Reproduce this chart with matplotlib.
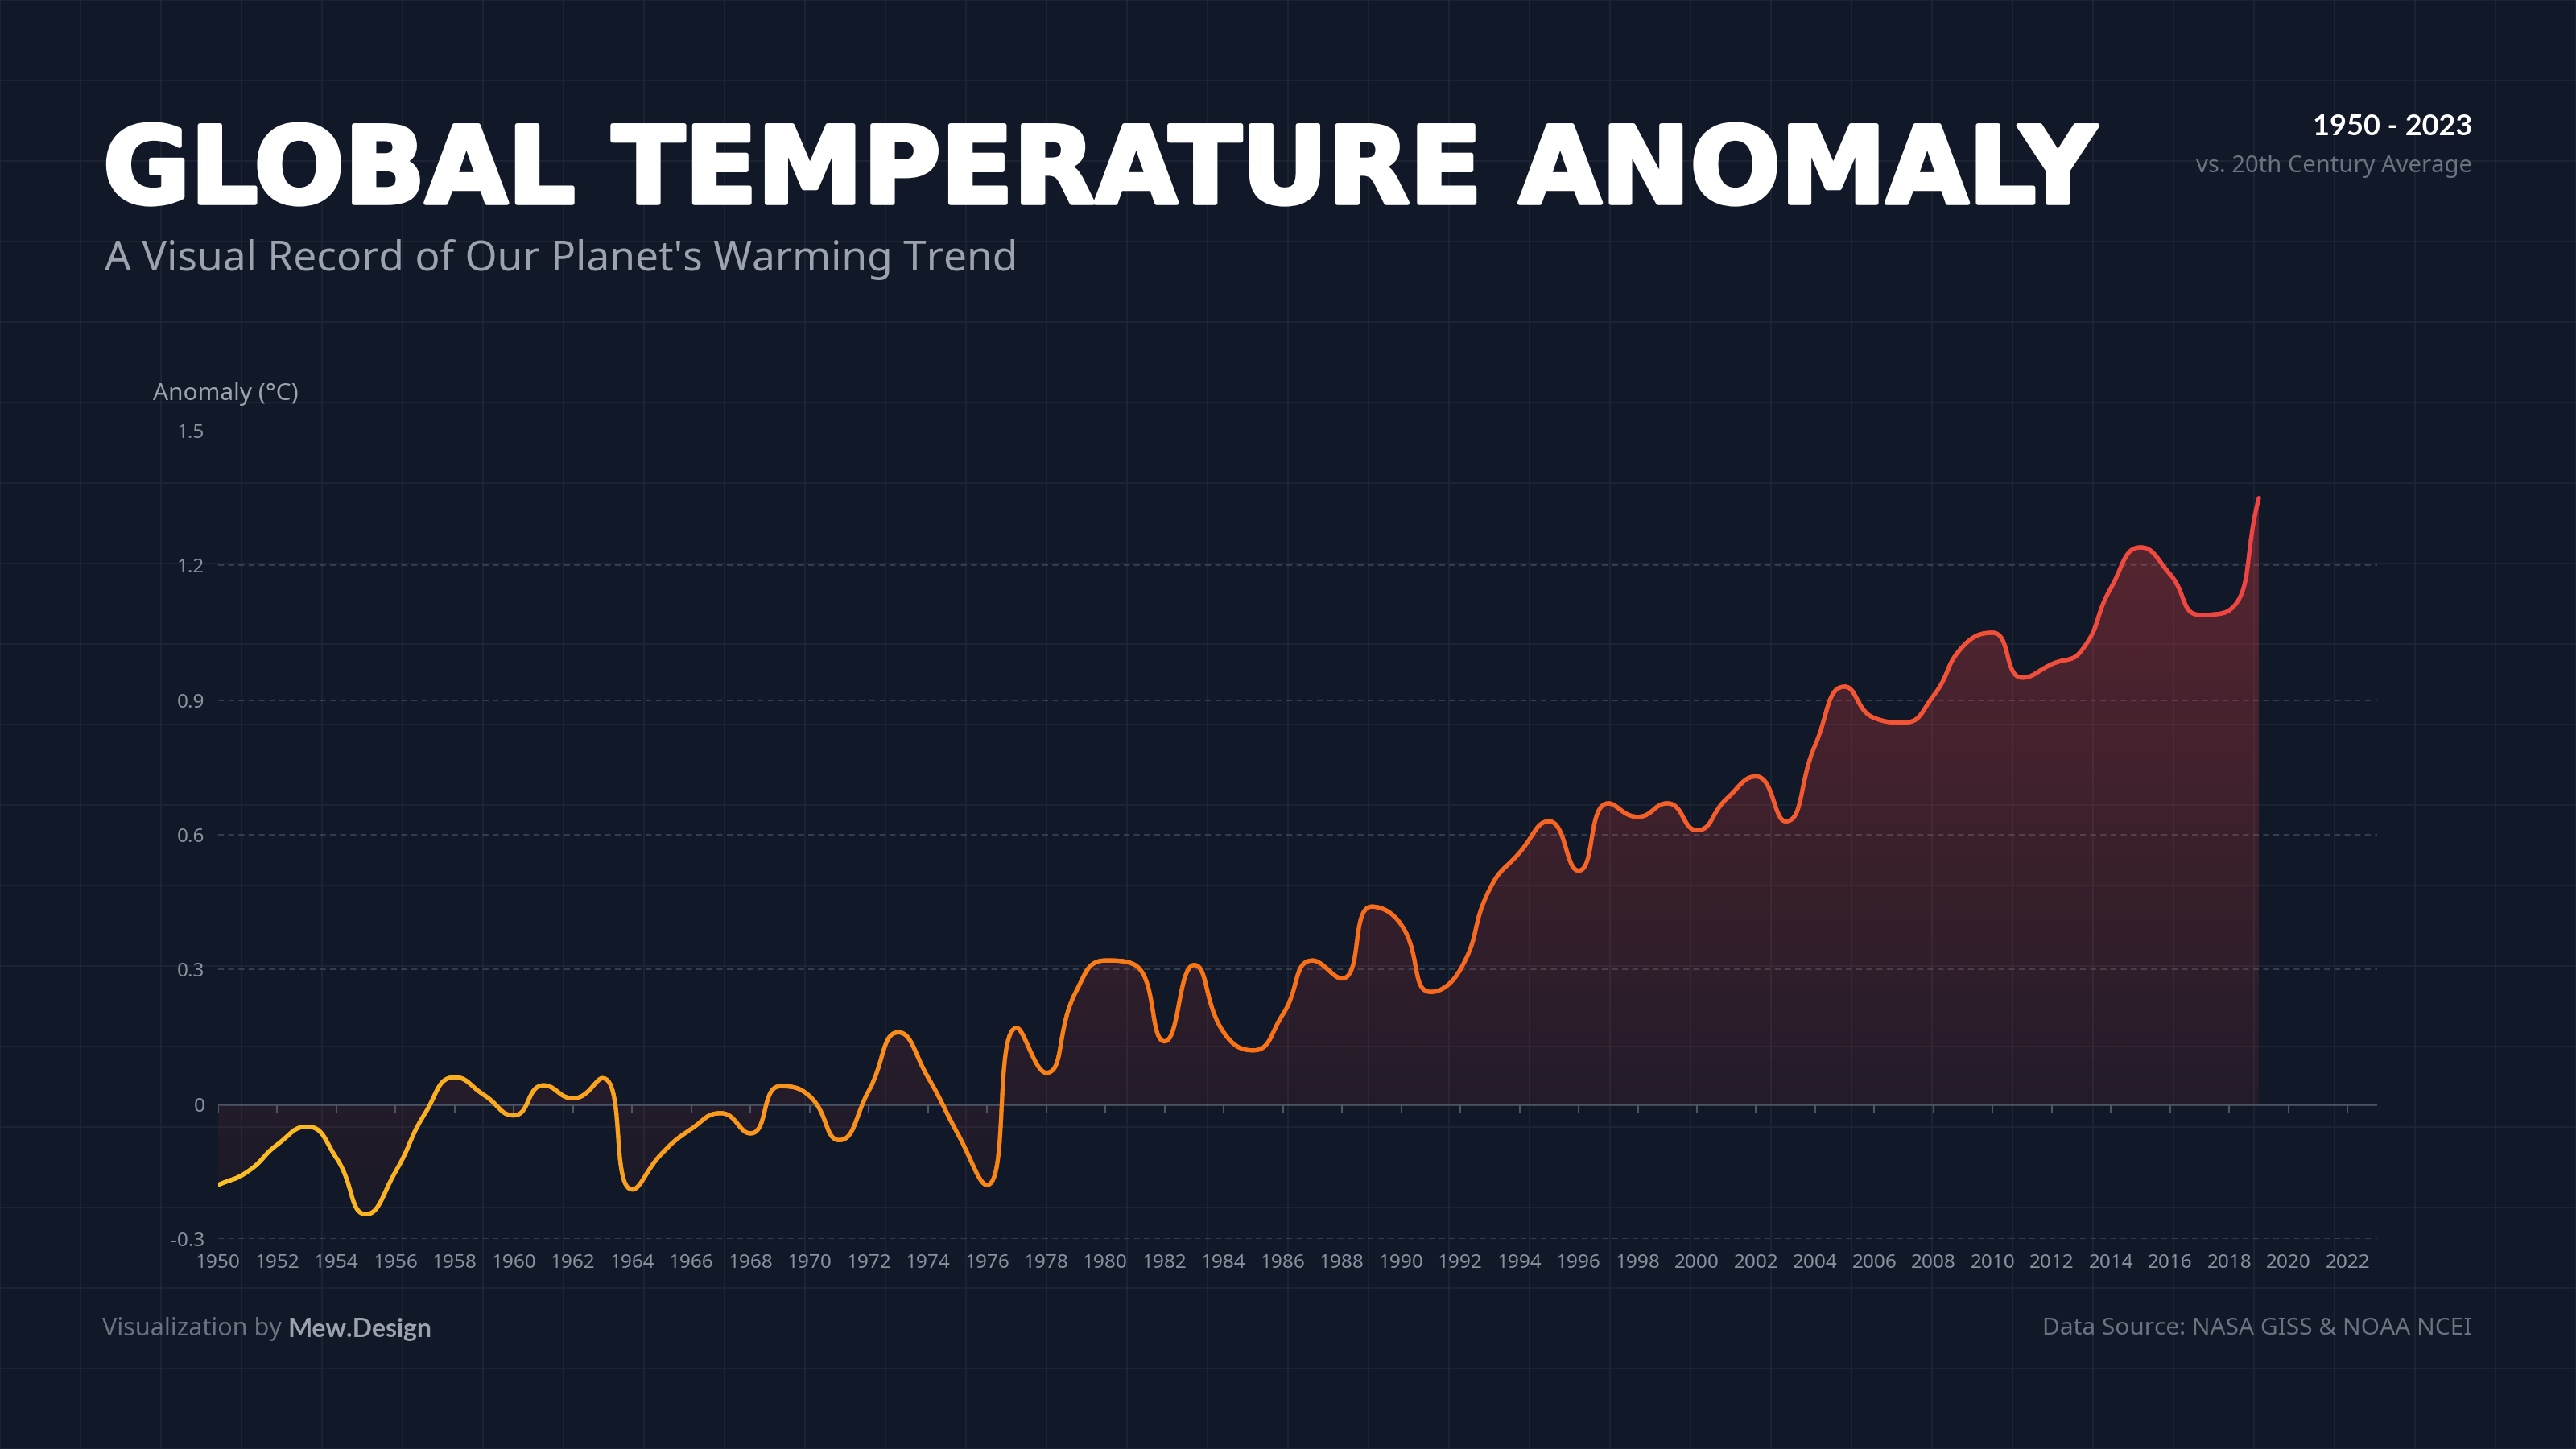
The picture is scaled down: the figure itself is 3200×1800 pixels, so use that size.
import numpy as np
import matplotlib.pyplot as plt
import matplotlib.patheffects as pe
from matplotlib.collections import LineCollection
from matplotlib.colors import LinearSegmentedColormap, to_rgb
from matplotlib.patches import PathPatch
from matplotlib.path import Path
from matplotlib.lines import Line2D

# data (°C vs 20th century average)
years = np.arange(1950, 2020)
anomaly = [
    -0.18, -0.15, -0.09, -0.05, -0.12, -0.245, -0.15, -0.02, 0.06, 0.02,
    -0.025, 0.042, 0.013, 0.058, -0.19, -0.11, -0.055, -0.02, -0.065, 0.04,
    0.018, -0.08, 0.03, 0.16, 0.06, -0.065, -0.18, 0.17, 0.07, 0.25,
    0.32, 0.31, 0.14, 0.31, 0.16, 0.12, 0.20, 0.32, 0.28, 0.44,
    0.40, 0.25, 0.30, 0.48, 0.56, 0.63, 0.52, 0.67, 0.64, 0.67,
    0.61, 0.68, 0.73, 0.63, 0.80, 0.93, 0.86, 0.85, 0.91, 1.02,
    1.05, 0.95, 0.98, 1.01, 1.15, 1.24, 1.18, 1.09, 1.10, 1.35,
]
x_ticks = np.arange(1950, 2023, 2)
y_ticks = [-0.3, 0, 0.3, 0.6, 0.9, 1.2, 1.5]
y_labels = ['-0.3', '0', '0.3', '0.6', '0.9', '1.2', '1.5']

BG = '#111827'
W, H = 3200, 1800
FONT = ['Noto Sans', 'DejaVu Sans']
BOLD_FONT = ['Lato', 'DejaVu Sans']
TITLE_FONT = ['DejaVu Sans']
plt.rcParams['font.family'] = FONT

fig = plt.figure(figsize=(32, 18), dpi=100, facecolor=BG)

# faint square grid over the whole page
for gx in range(0, W + 1, 100):
    fig.add_artist(Line2D([gx / W] * 2, [0, 1], color='#1f2635', lw=1.2, zorder=0))
for gy in range(0, H + 1, 100):
    fig.add_artist(Line2D([0, 1], [gy / H] * 2, color='#1f2635', lw=1.2, zorder=0))

left, right, top, bottom = 271, 2953, 535, 1539
ax = fig.add_axes([left / W, 1 - bottom / H, (right - left) / W, (bottom - top) / H])
ax.set_facecolor('none')
ax.set_xlim(1950, 2023)
ax.set_ylim(-0.3, 1.5)
for s in ax.spines.values():
    s.set_visible(False)

# smooth line like echarts (bezier control points, y clamped at extremes)
sx = (right - left) / 73.0
sy = (bottom - top) / 1.8
P = np.column_stack([years * sx, np.array(anomaly) * sy])
n = len(P)
out_cp = P.copy()
in_cp = P.copy()
for i in range(n):
    p = P[i]
    prv = P[i - 1] if i > 0 else p
    nxt = P[i + 1] if i < n - 1 else p
    v = (nxt - prv) * 0.5
    d0 = np.hypot(*(p - prv))
    d1 = np.hypot(*(nxt - p))
    r = d1 / (d0 + d1) if d0 + d1 > 0 else 0.5
    vo = v * r
    vi = -v * (1 - r)
    f = 1.0
    for vec, q in ((vo, nxt), (vi, prv)):
        if vec[1] != 0:
            lim = q[1] - p[1]
            if lim * vec[1] <= 0:
                f = 0.0
            else:
                f = min(f, abs(lim) / abs(vec[1]))
    vo[1] *= f
    vi[1] *= f
    if i < n - 1:
        out_cp[i] = p + vo
    if i > 0:
        in_cp[i] = p + vi

t = np.linspace(0, 1, 30)[:, None]
pts = []
for i in range(n - 1):
    a, b, c, d = P[i], out_cp[i], in_cp[i + 1], P[i + 1]
    seg = (1 - t) ** 3 * a + 3 * (1 - t) ** 2 * t * b + 3 * (1 - t) * t ** 2 * c + t ** 3 * d
    pts.append(seg if i == 0 else seg[1:])
pts = np.vstack(pts) / [sx, sy]
xs, ys = pts[:, 0], pts[:, 1]

# area down to zero with vertical gradient
verts = np.vstack([pts, [[xs[-1], 0], [xs[0], 0], [xs[0], ys[0]]]])
area = PathPatch(Path(verts), facecolor='none', edgecolor='none')
ax.add_patch(area)
grad = np.zeros((256, 1, 4))
grad[:, 0, :3] = to_rgb('#ef4444')
grad[:, 0, 3] = np.linspace(0.33, 0.04, 256)
im = ax.imshow(grad, extent=[xs[0], xs[-1], ys.min(), ys.max()], origin='upper',
               aspect='auto', zorder=1, interpolation='bilinear')
im.set_clip_path(area)

# line with horizontal colour gradient
cmap = LinearSegmentedColormap.from_list('heat', ['#fbbf24', '#f97316', '#ef4444'])
segs = np.stack([pts[:-1], pts[1:]], axis=1)
lc = LineCollection(segs, colors=cmap((xs[:-1] - xs[0]) / (xs[-1] - xs[0])),
                    linewidths=3.8, capstyle='round', joinstyle='round', zorder=3)
ax.add_collection(lc)

# gridlines, zero axis and ticks
for yt in y_ticks:
    if yt != 0:
        ax.axhline(yt, color='#374151', lw=1.3, ls=(0, (4, 3)), zorder=0.5)
ax.axhline(0, color='#4b5563', lw=1.8, zorder=2)
ax.vlines(x_ticks, -10 / sy, 0, color='#4b5563', lw=1.5, zorder=2)

ax.set_xticks(x_ticks, labels=[str(y) for y in x_ticks])
ax.set_yticks(y_ticks, labels=y_labels)
ax.tick_params(length=0, colors='#8a919e', labelsize=17.5)
ax.tick_params(axis='x', pad=13)
ax.tick_params(axis='y', pad=12)

# texts
def ft(x, y, s, **kw):
    return fig.text(x / W, 1 - y / H, s, **kw)

ft(128, 252, 'GLOBAL TEMPERATURE ANOMALY', color='white', fontsize=95,
   fontweight='bold', family=TITLE_FONT, va='baseline',
   path_effects=[pe.withStroke(linewidth=4, foreground='white')])
ft(130, 336, "A Visual Record of Our Planet's Warming Trend", color='#9ca3af',
   fontsize=37, fontweight='light', va='baseline')
ft(3071, 168, '1950 - 2023', color='white', fontsize=26, fontweight='bold',
   family=BOLD_FONT, ha='right', va='baseline')
ft(3071, 214, 'vs. 20th Century Average', color='#6b7280', fontsize=21,
   fontweight='light', ha='right', va='baseline')
ft(190, 490, 'Anomaly (°C)', color='#9ca3af', fontsize=21.5, va='center')

t1 = ft(127, 1651, 'Visualization by ', color='#6b7280', fontsize=22, va='center')
ax.annotate('Mew.Design', xy=(1, 0), xycoords=t1, color='#9ca3af', fontsize=23,
            fontweight='bold', family=BOLD_FONT, va='bottom', ha='left')
ft(3071, 1651, 'Data Source: NASA GISS & NOAA NCEI', color='#6b7280', fontsize=21.5,
   ha='right', va='center')

fig.savefig('out.png', dpi=100, facecolor=BG)
